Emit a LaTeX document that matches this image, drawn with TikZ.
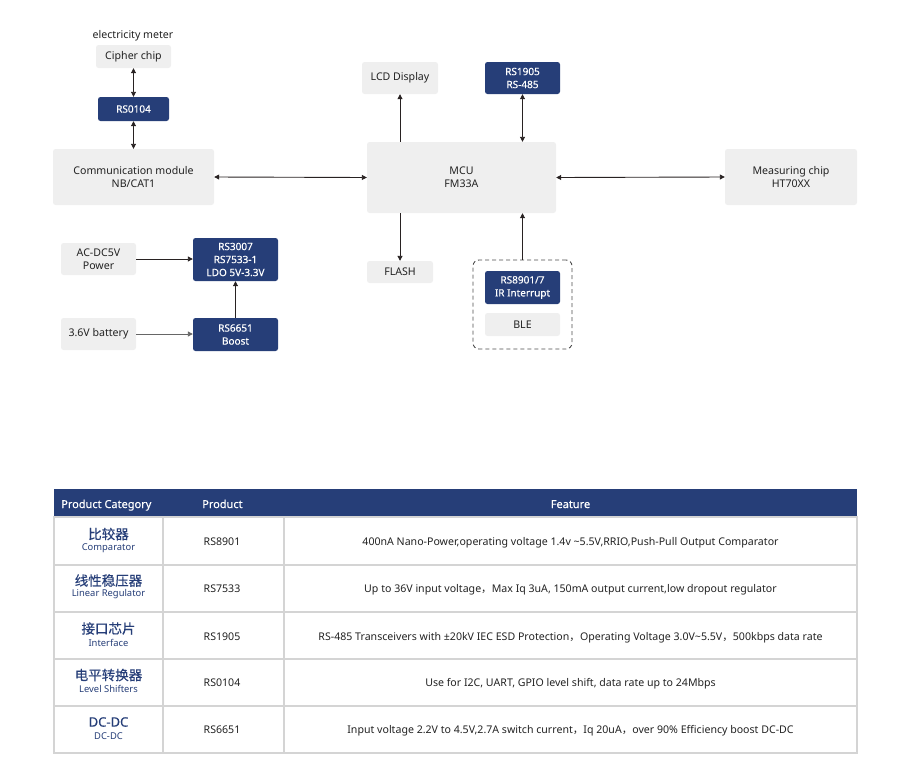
\documentclass[tikz,border=0pt]{standalone}
\usepackage{fontspec}
\setmainfont{Noto Sans}
\newfontfamily\cjk{Noto Sans CJK SC}
\newfontfamily\cjkb[FakeBold=0.5]{Noto Sans CJK SC}
\newfontfamily\latb[FakeBold=0.5]{Noto Sans}
\newfontfamily\latm[FakeBold=0.25]{Noto Sans}
\usetikzlibrary{arrows.meta}
\definecolor{navy}{RGB}{38,62,120}
\definecolor{boxgray}{RGB}{239,239,239}
\definecolor{linegray}{RGB}{212,212,212}
\definecolor{txt}{RGB}{34,34,34}
\definecolor{arrowc}{RGB}{40,34,34}
\tikzset{
  graybox/.style={fill=boxgray, draw=none, rounded corners=2.5pt, inner sep=0pt, align=center, text=txt, font=\fontsize{10.6}{13}\selectfont},
  bluebox/.style={fill=navy, draw=none, rounded corners=2.5pt, inner sep=0pt, align=center, text=white, font=\latm\fontsize{10}{13}\selectfont},
  dashbox/.style={draw=black!70, dashed, dash pattern=on 4pt off 3pt, line width=0.9pt, rounded corners=6pt, inner sep=0pt},
  arr/.style={draw=arrowc, line width=0.9pt, -{Triangle[length=5pt,width=5pt]}},
  darr/.style={draw=arrowc, line width=0.9pt, {Triangle[length=5pt,width=5pt]}-{Triangle[length=5pt,width=5pt]}},
  hdr/.style={text=white, font=\latm\fontsize{11}{12}\selectfont, inner sep=0pt},
  cn/.style={text=navy, font=\cjkb\fontsize{13.5}{15}\selectfont, inner sep=0pt},
  en/.style={text=navy, font=\fontsize{9.4}{10}\selectfont, inner sep=0pt},
  cell/.style={text=txt, font=\fontsize{10.6}{12}\selectfont, inner sep=0pt, anchor=base},
  grid/.style={draw=linegray, line width=1.1pt}
}
\begin{document}
\begin{tikzpicture}[x=1pt,y=-1pt]
\useasboundingbox (0,0) rectangle (907,782);
% ---------- diagram ----------
\node[text=txt, font=\fontsize{10.6}{12}\selectfont, inner sep=0pt] (em) at (133,36) {electricity meter};
\node[graybox, minimum width=75pt, minimum height=23pt] (cipher) at (133.5,56.5) {Cipher chip};
\node[bluebox, minimum width=71pt, minimum height=24pt] (rs0104) at (133.5,109) {RS0104};
\node[graybox, minimum width=161pt, minimum height=56pt] (comm) at (133.5,177) {Communication module\\NB/CAT1};
\node[graybox, minimum width=189pt, minimum height=71pt] (mcu) at (461.5,177.5) {MCU\\FM33A};
\node[graybox, minimum width=76pt, minimum height=32pt] (lcd) at (400,78) {LCD Display};
\node[bluebox, minimum width=75pt, minimum height=32pt] (rs1905) at (522.5,78) {RS1905\\RS-485};
\node[graybox, minimum width=132pt, minimum height=56pt] (meas) at (791,177) {Measuring chip\\HT70XX};
\node[graybox, minimum width=66pt, minimum height=22pt] (flash) at (400,272) {FLASH};
\node[dashbox, minimum width=99pt, minimum height=89pt] (grp) at (522.5,304.5) {};
\node[bluebox, minimum width=75pt, minimum height=33pt] (rs8901) at (522.5,287.5) {RS8901/7\\IR Interrupt};
\node[graybox, minimum width=75pt, minimum height=23pt] (ble) at (522.5,324.5) {BLE};
\node[graybox, minimum width=75pt, minimum height=32pt] (acdc) at (98.5,259) {AC-DC5V\\Power};
\node[bluebox, minimum width=85pt, minimum height=43pt] (rs3007) at (235.5,259.5) {RS3007\\RS7533-1\\LDO 5V-3.3V};
\node[graybox, minimum width=75pt, minimum height=32pt] (bat) at (98.5,334) {3.6V battery};
\node[bluebox, minimum width=85pt, minimum height=33pt] (rs6651) at (235.5,334.5) {RS6651\\Boost};
% connectors
\draw[darr] (cipher.south) -- (rs0104.north);
\draw[darr] (rs0104.south) -- (comm.north);
\draw[darr] (comm.east) -- (mcu.west);
\draw[darr] (mcu.east) -- (meas.west);
\draw[arr] (lcd.south |- mcu.north) -- (lcd.south);
\draw[darr] (rs1905.south) -- (rs1905.south |- mcu.north);
\draw[arr] (flash.north |- mcu.south) -- (flash.north);
\draw[arr] (grp.north) -- (grp.north |- mcu.south);
\draw[arr] (acdc.east) -- (acdc.east -| rs3007.west);
\draw[arr, draw=black!60] (bat.east) -- (bat.east -| rs6651.west);
\draw[arr] (rs6651.north) -- (rs3007.south);
% ---------- table ----------
\fill[navy] (54,489) rectangle (857,517);
\node[hdr, anchor=base west] (h1) at (61,508) {Product Category};
\node[hdr, anchor=base west] (h2) at (202,508) {Product};
\node[hdr, anchor=base] (h3) at (570.5,508) {Feature};
\draw[grid] (54,517) rectangle (857,753);
\foreach \yy in {565,612,659,706} \draw[grid] (54,\yy) -- (857,\yy);
\foreach \xx in {163,284} \draw[grid] (\xx,517) -- (\xx,753);
% row 1
\node[cn] (c1) at (108.5,534) {比较器};
\node[en] (e1) at (108.5,548) {Comparator};
\node[cell] (p1) at (222,545.5) {RS8901};
\node[cell] (f1) at (570.5,545.5) {400nA Nano-Power,operating voltage 1.4v \textasciitilde5.5V,RRIO,Push-Pull Output Comparator};
% row 2
\node[cn] (c2) at (108.5,580.5) {线性稳压器};
\node[en] (e2) at (108.5,594.5) {Linear Regulator};
\node[cell] (p2) at (222,592.5) {RS7533};
\node[cell] (f2) at (570.5,592.5) {Up to 36V input voltage{\cjk，}Max Iq 3uA, 150mA output current,low dropout regulator};
% row 3
\node[cn] (c3) at (108.5,628.5) {接口芯片};
\node[en] (e3) at (108.5,642.5) {Interface};
\node[cell] (p3) at (222,640) {RS1905};
\node[cell] (f3) at (570.5,640) {RS-485 Transceivers with ±20kV IEC ESD Protection{\cjk，}Operating Voltage 3.0V\textasciitilde5.5V{\cjk，}500kbps data rate};
% row 4
\node[cn] (c4) at (108.5,675) {电平转换器};
\node[en] (e4) at (108.5,689) {Level Shifters};
\node[cell] (p4) at (222,686.5) {RS0104};
\node[cell] (f4) at (570.5,686.5) {Use for I2C, UART, GPIO level shift, data rate up to 24Mbps};
% row 5
\node[cn, font=\latb\fontsize{13}{15}\selectfont] (c5) at (108.5,722) {DC-DC};
\node[en] (e5) at (108.5,736) {DC-DC};
\node[cell] (p5) at (222,733.5) {RS6651};
\node[cell] (f5) at (570.5,733.5) {Input voltage 2.2V to 4.5V,2.7A switch current{\cjk，}Iq 20uA{\cjk，}over 90\% Efficiency boost DC-DC};
\end{tikzpicture}
\end{document}
